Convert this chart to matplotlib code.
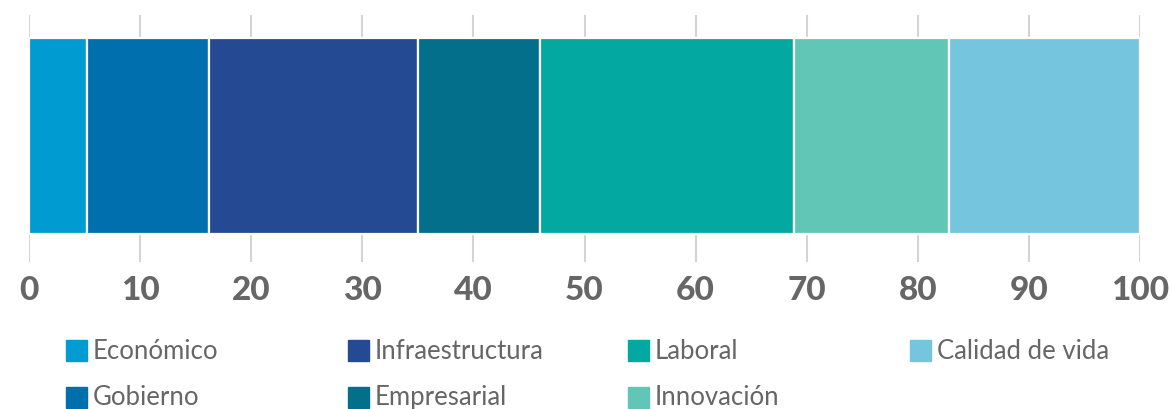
import matplotlib
matplotlib.use("Agg")
import matplotlib.pyplot as plt
from matplotlib.patches import Rectangle

categories = ["Económico", "Gobierno", "Infraestructura", "Empresarial",
              "Laboral", "Innovación", "Calidad de vida"]
values = [5.2, 11.0, 18.8, 11.0, 22.9, 13.9, 17.2]
colors = ["#009bd0", "#006fad", "#234a93", "#036f8b",
          "#03a8a0", "#62c6b7", "#76c5df"]
ticks = [0, 10, 20, 30, 40, 50, 60, 70, 80, 90, 100]

W, H = 1171, 410
fig = plt.figure(figsize=(W / 100, H / 100), dpi=100)
ax = fig.add_axes([29 / W, 1 - 263 / H, 1111 / W, 247 / H])

left = 0
for cat, val, col in zip(categories, values, colors):
    ax.barh(0.01, val, left=left, height=0.795, color=col,
            edgecolor="white", linewidth=1.6, zorder=3)
    left += val

ax.set_xlim(0, 100)
ax.set_ylim(-0.5, 0.5)
ax.set_xticks(ticks)
ax.set_yticks([])
ax.grid(axis="x", color="#d4d4d4", linewidth=1.5, zorder=0)
for s in ax.spines.values():
    s.set_visible(False)
ax.tick_params(axis="x", length=0, pad=9, labelsize=24, labelcolor="#666666")
for lbl in ax.get_xticklabels():
    lbl.set_fontfamily(["Lato", "DejaVu Sans"])
    lbl.set_fontweight("black")

# legend: 4 columns, filled column by column
col_x = [66, 348, 628, 910]
row_y = [351.5, 398]
sq = 21
for i, (cat, col) in enumerate(zip(categories, colors)):
    c, r = divmod(i, 2)
    x0, yc = col_x[c], row_y[r]
    fig.patches.append(Rectangle((x0 / W, 1 - (yc + sq / 2) / H), sq / W, sq / H,
                                 transform=fig.transFigure, color=col))
    fig.text((x0 + 27) / W, 1 - yc / H, cat, fontsize=18.5, color="#666666",
             family=["Lato", "DejaVu Sans"], va="center", ha="left")

fig.savefig("out.png", dpi=100)
